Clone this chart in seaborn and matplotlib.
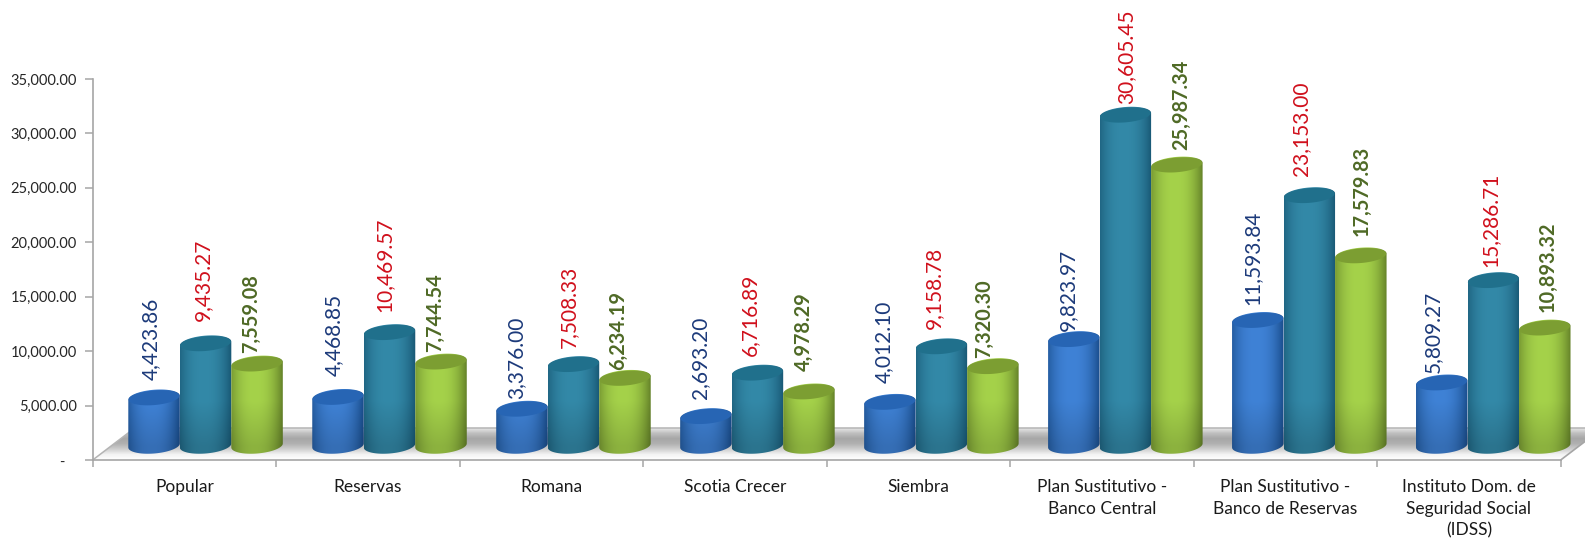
"""
Fund values per category, drawn as 3D looking cylinders
"""
import numpy as np
import pandas as pd
import matplotlib
matplotlib.use('Agg')
import matplotlib.pyplot as plt
from matplotlib.colors import to_rgb
from matplotlib.patches import PathPatch
from matplotlib.path import Path
import seaborn as sns

categories = [
    'Popular', 'Reservas', 'Romana', 'Scotia Crecer', 'Siembra',
    'Plan Sustitutivo -\nBanco Central', 'Plan Sustitutivo -\nBanco de Reservas',
    'Instituto Dom. de\nSeguridad Social\n(IDSS)',
]
serie_a = [4423.86, 4468.85, 3376.00, 2693.20, 4012.10, 9823.97, 11593.84, 5809.27]
serie_b = [9435.27, 10469.57, 7508.33, 6716.89, 9158.78, 30605.45, 23153.00, 15286.71]
serie_c = [7559.08, 7744.54, 6234.19, 4978.29, 7320.30, 25987.34, 17579.83, 10893.32]
y_ticks = [0, 5000, 10000, 15000, 20000, 25000, 30000, 35000]

# hand placed data labels, pixels from the bar top
lift_a = [59, 62, 51, 59, 60, 50, 62, 51]
lift_b = [64, 68, 58, 58, 59, 58, 67, 61]
lift_c = [50, 49, 48, 60, 48, 60, 65, 61]
shift_a = [-3, -4.5, -5.5, -5.5, -6, -5.5, -5, -8.5]
shift_b = [-2.5, -5.5, -4.5, -7.5, -7.5, 0.5, -8.5, -2.5]
shift_c = [-5.5, -5.5, -7, -5.5, -8.5, 4.5, 0.5, 2.5]

PX_X = 1 / 183.5
PX_Y = 1 / 0.010886
FONT = ['Lato', 'DejaVu Sans']

styles = [
    dict(center='#3f82d6', edge='#1f5597', top='#2765b4', text='#1c3a7a', weight='normal', size=15),
    dict(center='#3389a8', edge='#1c5f7c', top='#20708c', text='#d0101c', weight='normal', size=15),
    dict(center='#a5d24a', edge='#6f8f2e', top='#7c9e32', text='#4f6a26', weight='bold', size=14.3),
]


def cylinder(ax, cx, half_w, base, top, style, zorder):
    """Draw one cylinder from its bar geometry"""
    b = 8 * PX_Y
    tilt = 2 * PX_Y
    t1 = np.linspace(np.pi, 2 * np.pi, 40)
    t2 = np.linspace(0, np.pi, 40)
    xs = np.r_[cx + half_w * np.cos(t1), cx + half_w * np.cos(t2)]
    ys = np.r_[base + b * np.sin(t1) + tilt * np.cos(t1),
               top + b * np.sin(t2) + tilt * np.cos(t2)]
    body = PathPatch(Path(np.c_[xs, ys]), fc='none', ec='none', transform=ax.transData)
    ax.add_patch(body)

    # body shading, dark at the sides and towards the floor
    u = np.linspace(-1, 1, 120)
    v = np.linspace(base - b - tilt, top + b + tilt, 300)
    light = 1 - np.abs(u + 0.08) ** 2.4
    rgb = np.zeros((v.size, u.size, 3))
    c0, c1 = np.array(to_rgb(style['center'])), np.array(to_rgb(style['edge']))
    for i in range(3):
        rgb[:, :, i] = c1[i] + (c0[i] - c1[i]) * light
    floor_dark = 0.85 + 0.15 * np.clip((v - base) / (45 * PX_Y), 0, 1)
    rgb = rgb * floor_dark[:, None, None]
    im = ax.imshow(rgb, extent=(cx - half_w, cx + half_w, v[0], v[-1]), origin='lower',
                   aspect='auto', interpolation='bilinear', zorder=zorder)
    im.set_clip_path(body)
    im.set_clip_box(ax.figure.bbox)

    t = np.linspace(0, 2 * np.pi, 80)
    lid = Path(np.c_[cx + half_w * 0.985 * np.cos(t),
                     top + b * 0.92 * np.sin(t) + tilt * np.cos(t)])
    ax.add_patch(PathPatch(lid, fc=style['top'], ec='none', zorder=zorder + 0.1, clip_on=False))


def draw_floor(ax):
    """Grey 3D floor behind the bars"""
    back = 32 * PX_Y
    run = 42 * PX_X
    x0, x1 = -0.5, 7.5
    corners = [(x0, 0), (x0 + run, back), (x1 + run, back), (x1, 0)]
    shape = PathPatch(Path(corners + [corners[0]]), fc='none', ec='none', transform=ax.transData)
    ax.add_patch(shape)
    levels = np.array([0.0, 0.05, 0.20, 0.33, 0.38, 0.28, 0.10])
    alpha = np.interp(np.linspace(0, 1, 120), np.linspace(0, 1, levels.size), levels)
    img = np.zeros((120, 2, 4))
    img[:, :, :3] = 0.08
    img[:, :, 3] = alpha[:, None]
    im = ax.imshow(img, extent=(x0, x1 + run, 0, back), origin='lower',
                   aspect='auto', interpolation='bilinear', zorder=1)
    im.set_clip_path(shape)
    im.set_clip_box(ax.figure.bbox)
    edge = '#a6a6a6'
    ax.plot([x0, x0 + run, x1 + run], [0, back, back], color='#b4b4b4', lw=1.1, clip_on=False, zorder=1.5)
    ax.plot([x1, x1 + run], [0, back], color=edge, lw=1.2, clip_on=False, zorder=1.5)


def main():
    sns.set_theme(style='white')
    plt.rcParams['font.family'] = FONT

    df = pd.DataFrame({
        'fondo': categories * 3,
        'serie': ['a'] * 8 + ['b'] * 8 + ['c'] * 8,
        'valor': serie_a + serie_b + serie_c,
    })

    fig = plt.figure(figsize=(15.85, 5.43), dpi=100)
    ax = fig.add_axes([92.7 / 1585, 83 / 543, 1468 / 1585, 381 / 543])
    sns.barplot(data=df, x='fondo', y='valor', hue='serie', width=0.842, gap=0,
                palette=[s['center'] for s in styles], saturation=1, legend=False, ax=ax)

    draw_floor(ax)

    base = 14.5 * PX_Y
    lifts = [lift_a, lift_b, lift_c]
    shifts = [shift_a, shift_b, shift_c]
    values = [serie_a, serie_b, serie_c]
    for s, container in enumerate(ax.containers):
        for i, bar in enumerate(container):
            bar.set_visible(False)
            cx = bar.get_x() + bar.get_width() / 2 + 0.115 + 0.0025 * i
            top = base + bar.get_height() * 0.992
            cylinder(ax, cx, bar.get_width() / 2, base, top, styles[s], 3 + s)
            ax.annotate(f'{values[s][i]:,.2f}', xy=(cx, top),
                        xytext=(shifts[s][i], lifts[s][i]), textcoords='offset pixels',
                        rotation=90, ha='center', va='center', fontsize=styles[s]['size'],
                        color=styles[s]['text'], fontweight=styles[s]['weight'],
                        annotation_clip=False, zorder=10)

    ax.set_xlim(-0.5, 7.5)
    ax.set_ylim(0, 35000)
    ax.set_xlabel('')
    ax.set_ylabel('')

    ax.set_yticks(y_ticks)
    ax.set_yticklabels([f'{v:,.2f}' if v else '-   ' for v in y_ticks], fontsize=10.5, color='#262626')
    ax.set_xticks(np.arange(-0.5, 8), labels=[''] * 9)
    ax.set_xticks(np.arange(8), labels=categories, minor=True)
    for label in ax.get_xticklabels(minor=True):
        label.set_linespacing(1.4)
    ax.tick_params(axis='x', which='major', length=5, width=1.1, color='#a6a6a6', bottom=True)
    ax.tick_params(axis='x', which='minor', length=0, pad=14, labelsize=12.5, labelcolor='#1a1a1a')
    ax.tick_params(axis='y', length=6, width=1.1, color='#a6a6a6', left=True, pad=5.5)

    sns.despine(ax=ax)
    for side in ['left', 'bottom']:
        ax.spines[side].set_color('#a6a6a6')
        ax.spines[side].set_linewidth(1.2)

    fig.savefig('out.png', dpi=100)
    plt.close(fig)


if __name__ == "__main__":
    main()
